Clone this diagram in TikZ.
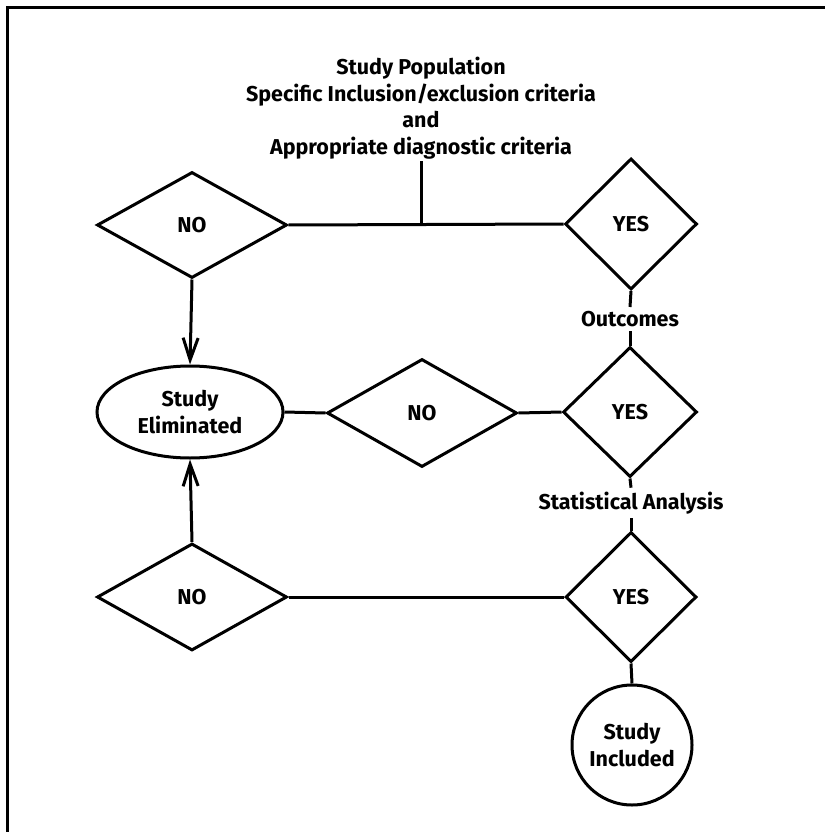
\documentclass[tikz,border=0pt]{standalone}
\usepackage{fontspec}
\setmainfont{Fira Sans}
\usetikzlibrary{shapes.geometric,arrows.meta}
\tikzset{
  lbl/.style={font=\bfseries\fontsize{21.5}{26.5}\selectfont},
  dia/.style={diamond,draw,line width=3pt,inner sep=0pt,lbl},
  ln/.style={line width=3pt},
  arr/.style={ln,-{Straight Barb[length=22pt,width=15pt,line width=3pt]}},
}
\begin{document}
\begin{tikzpicture}[x=1pt,y=-1pt]
\useasboundingbox (0,0) rectangle (825,832);
\draw[line width=3pt] (7.5,832) -- (7.5,7.5) -- (825,7.5);
\node[lbl,align=center,inner sep=2pt] (title) at (421,108)
  {Study Population\\Specific Inclusion/exclusion criteria\\and\\Appropriate diagnostic criteria};
\node[dia,minimum width=190pt,minimum height=106pt] (no1) at (192,225) {NO};
\node[dia,minimum width=132pt,minimum height=131pt] (yes1) at (631,224) {YES};
\node[lbl,inner sep=4pt] (out) at (630,319) {Outcomes};
\node[dia,minimum width=134pt,minimum height=130pt] (yes2) at (630,412) {YES};
\node[ellipse,draw,ln,lbl,align=center,minimum width=186pt,minimum height=92pt,inner sep=0pt] (elim) at (190,412) {Study\\Eliminated};
\node[dia,minimum width=190pt,minimum height=108pt] (no2) at (422,413) {NO};
\node[lbl,inner sep=4pt] (stat) at (631,503) {Statistical Analysis};
\node[dia,minimum width=131pt,minimum height=130pt] (yes3) at (631,597) {YES};
\node[dia,minimum width=190pt,minimum height=107pt] (no3) at (192,597) {NO};
\node[circle,draw,ln,lbl,align=center,minimum size=120pt,inner sep=0pt] (inc) at (632,745) {Study\\Included};
\coordinate (j) at (title.south |- no1.east);
\draw[ln] (no1.east) -- (yes1.west);
\draw[ln] (title.south) -- (j);
\draw[ln] (yes1.south) -- (out.north);
\draw[ln] (out.south) -- (yes2.north);
\draw[ln] (elim.east) -- (no2.west);
\draw[ln] (no2.east) -- (yes2.west);
\draw[ln] (yes2.south) -- (stat.north);
\draw[ln] (stat.south) -- (yes3.north);
\draw[ln] (no3.east) -- (yes3.west);
\draw[ln] (yes3.south) -- (inc.north);
\draw[arr] (no1.south) -- (elim.north);
\draw[arr] (no3.north) -- (elim.south);
\end{tikzpicture}
\end{document}
